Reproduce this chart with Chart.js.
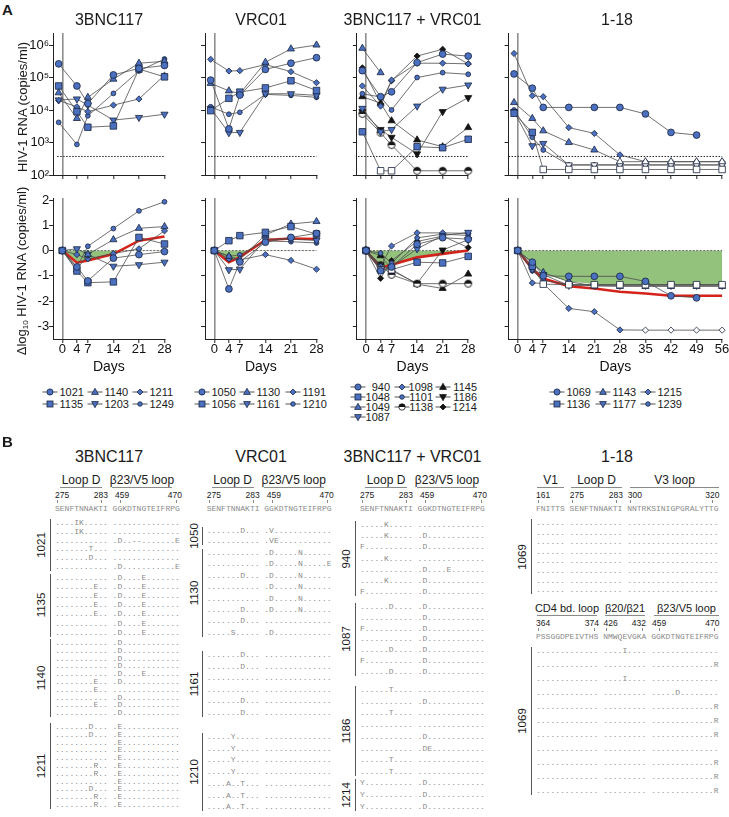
<!DOCTYPE html>
<html>
<head>
<meta charset="utf-8">
<script src="https://cdn.jsdelivr.net/npm/chart.js@4.4.1/dist/chart.umd.min.js"></script>
<style>
  body { margin:0; width:729px; height:817px; background:#fff; position:relative; overflow:hidden;
         font-family:"Liberation Sans", Arial, sans-serif; color:#1a1a1a; }
  canvas { position:absolute; }
  .t { position:absolute; white-space:nowrap; line-height:1; }
  .seq { position:absolute; white-space:pre; font-family:"Liberation Mono", "DejaVu Sans Mono", monospace;
         font-size:8px; line-height:8px; color:#8a8a8a; }
  .bar { position:absolute; height:1.6px; background:#8a8a8a; }
  .vl { position:absolute; width:1.2px; background:#555; }
  .tk { position:absolute; width:0.8px; height:3px; background:#888; }
  svg { position:absolute; overflow:visible; }
</style>
</head>
<body>
<script>
// ================= Panel A data (log10 copies/ml) =================
// baseline sample is drawn one day before the first infusion
const daysPre = [-1, 4, 7, 14, 21, 28];
const daysPost = [0, 4, 7, 14, 21, 28];
const daysPre118 = [-1, 4, 7, 14, 21, 28, 35, 42, 49, 56];
const daysPost118 = [0, 4, 7, 14, 21, 28, 35, 42, 49, 56];
const dayTicks = [0, 4, 7, 14, 21, 28];
const dayTicks118 = [0, 4, 7, 14, 21, 28, 35, 42, 49, 56];
const rnaTicks = [2, 3, 4, 5, 6];
const rnaTickLabels = ['10²', '10³', '10⁴', '10⁵', '10⁶'];
const deltaTicks = [-3, -2, -1, 0, 1, 2];
const deltaTickLabels = ['-3', '-2', '-1', '0', '1', '2'];
const detectionLimit = 2.57;
const panelTitles = ['3BNC117', 'VRC01', '3BNC117 + VRC01', '1-18'];

// 3BNC117
const ids3BNC = ['1021', '1135', '1140', '1203', '1211', '1249'];
const rna3BNC = [
  [5.42, 4.74, 4.20, 5.08, 5.28, 5.37],
  [4.74, 3.95, 3.47, 3.51, 5.26, 5.02],
  [4.53, 3.74, 4.39, 4.95, 5.44, 5.50],
  [4.31, 4.34, 4.15, 3.69, 3.77, 3.87],
  [4.29, 4.10, 3.95, 4.15, 4.34, 5.07],
  [3.62, 2.94, 3.82, 4.51, 5.20, 5.57]
];
const delta3BNC = [
  [0, -0.65, -1.20, -0.30, -0.16, -0.04],
  [0, -0.81, -1.27, -1.24, 0.52, 0.26],
  [0, -0.75, -0.15, 0.43, 0.88, 0.95],
  [0, 0.07, -0.15, -0.62, -0.56, -0.46],
  [0, -0.16, -0.33, -0.12, 0.07, 0.78],
  [0, -0.65, 0.17, 0.87, 1.57, 1.93]
];
const mean3BNC = [0, -0.48, -0.39, -0.14, 0.39, 0.56];

// VRC01
const idsVRC = ['1050', '1056', '1130', '1161', '1191', '1210'];
const rnaVRC = [
  [4.92, 3.42, 4.46, 5.25, 5.44, 5.61],
  [3.98, 4.36, 4.55, 4.68, 4.90, 4.60],
  [4.82, 4.59, 4.50, 5.47, 5.88, 6.00],
  [4.05, 3.30, 3.31, 4.50, 4.50, 4.45],
  [5.56, 5.20, 5.21, 5.40, 5.18, 4.84],
  [4.10, 3.87, 3.93, 4.48, 4.45, 4.39]
];
const deltaVRC = [
  [0, -1.52, -0.45, 0.33, 0.52, 0.68],
  [0, 0.39, 0.59, 0.72, 0.95, 0.65],
  [0, -0.23, -0.35, 0.62, 1.05, 1.15],
  [0, -0.76, -0.74, 0.45, 0.45, 0.40],
  [0, -0.33, -0.37, -0.16, -0.39, -0.74],
  [0, -0.23, -0.17, 0.38, 0.35, 0.30]
];
const meanVRC = [0, -0.46, -0.26, 0.42, 0.48, 0.46];

// 3BNC117 + VRC01
const idsCombo = ['940', '1048', '1049', '1087', '1098', '1101', '1138', '1145', '1186', '1214'];
const rnaCombo = [
  [5.21, 4.41, 4.56, 5.46, 5.72, 5.66],
  [3.33, 2.13, 2.13, 2.87, 2.84, 3.10],
  [5.90, 5.15, null, null, null, null],
  [4.05, 3.33, 3.40, 4.12, 4.64, 4.77],
  [4.74, 4.12, 4.92, 5.44, 5.44, 5.42],
  [4.50, 4.40, 4.00, 5.00, 5.15, 5.10],
  [3.88, 3.30, 2.92, 2.13, 2.13, 2.13],
  [4.41, 4.21, 3.67, 3.08, 2.87, 3.46],
  [3.95, 3.40, 3.16, 2.65, 3.95, 4.38],
  [5.30, 4.20, 4.90, 5.66, 5.87, 5.42]
];
const deltaCombo = [
  [0, -0.80, -0.65, 0.25, 0.51, 0.45],
  [0, -0.76, -0.76, -0.46, -0.49, -0.23],
  [0, -0.75, null, null, null, null],
  [0, -0.72, -0.65, 0.07, 0.59, 0.72],
  [0, -0.62, 0.18, 0.70, 0.70, 0.68],
  [0, -0.10, -0.50, 0.50, 0.65, 0.60],
  [0, -0.58, -0.96, -1.31, -1.31, -1.31],
  [0, -0.20, -0.74, -1.33, -1.50, -0.93],
  [0, -0.55, -0.79, -1.30, 0.02, 0.43],
  [0, -1.10, -0.40, 0.36, 0.57, 0.12]
];
const meanCombo = [0, -0.68, -0.56, -0.27, -0.13, 0.0];
const belowCombo = [[], [1, 2], [], [], [], [], [], [], [], []];

// 1-18
const ids118 = ['1069', '1136', '1143', '1177', '1215', '1239'];
const rna118 = [
  [5.11, 4.67, 4.08, 4.08, 4.08, 4.08, 3.88, 3.31, 3.23, null],
  [3.90, 3.31, 2.17, 2.17, 2.17, 2.17, 2.17, 2.17, 2.17, 2.17],
  [4.23, 3.74, 3.36, 3.00, 2.77, 2.41, 2.41, 2.41, 2.41, 2.41],
  [3.95, 2.90, 2.97, 2.31, 2.31, 2.31, 2.31, 2.31, 2.31, 2.31],
  [5.74, 4.44, 4.41, 3.46, 3.28, 2.62, 2.41, 2.41, 2.41, 2.41],
  [4.00, 3.16, 2.77, 2.31, 2.31, 2.31, 2.31, 2.31, 2.31, 2.31]
];
const delta118 = [
  [0, -0.46, -1.00, -1.02, -1.02, -1.02, -1.22, -1.79, -1.87, null],
  [0, -0.62, -1.33, -1.35, -1.35, -1.35, -1.35, -1.35, -1.35, -1.35],
  [0, -0.50, -0.87, -1.23, -1.40, -1.42, -1.42, -1.42, -1.42, -1.42],
  [0, -0.75, -0.95, -1.38, -1.38, -1.38, -1.38, -1.38, -1.38, -1.38],
  [0, -1.28, -1.30, -2.29, -2.42, -3.14, -3.15, -3.15, -3.15, -3.15],
  [0, -0.80, -1.18, -1.35, -1.35, -1.35, -1.35, -1.35, -1.35, -1.35]
];
const mean118 = [0, -0.72, -1.11, -1.41, -1.50, -1.63, -1.70, -1.79, -1.79, -1.79];
const shade118 = [0, -0.48, -0.92, -1.22, -1.32, -1.35, -1.35, -1.35, -1.35, -1.35];
const below118 = [[], [2, 3, 4, 5, 6, 7, 8, 9], [5, 6, 7, 8, 9], [3, 4, 5, 6, 7, 8, 9], [6, 7, 8, 9], [3, 4, 5, 6, 7, 8, 9]];

// ================= Panel B data (env sequences) =================
const envRef = 'SENFTNNAKTI GGKDTNGTEIFRPG';
const envRegions = ['Loop D', 'β23/V5 loop'];
const envPositions = ['275', '283', '459', '470'];
const seq1021 = [
  '....IK..... ..............', '....IK..... ..............', '........... .D..--.......E',
  '.......T... ..............', '.......D... ..............', '........... .D...........E'];
const seq1135 = [
  '........... .D....E.......', '........E.. .D....E.......', '........E.. .D....E.......',
  '........E.. .D....E.......', '........E.. .D....E.......', '........... .D....E.......',
  '........... .D....E.......'];
const seq1140 = [
  '........... .D............', '........... .D............', '........... .D............',
  '........... .D............', '........... .D....E.......', '........E.. .D............',
  '........E.. ..............', '........... .D............', '........E.. .D............',
  '........... .D............'];
const seq1211 = [
  '.......D... .E............', '.......D... .E............', '........... .E............',
  '........... .E............', '........... .E............', '........R.. .E............',
  '........R.. .E............', '........... .E............', '.......D... .E............',
  '........R.. .E............', '........R.. .E............'];
const seq1050 = ['.......D... .V............', '........... .VE...........'];
const seq1130 = [
  '........... .D.....N......', '........... .D.....N.....E', '.......D... .D.....N......',
  '........... .D.....N......', '........... .D.....N......', '.......D... .D.....N......',
  '.......D... ..............', '.....S..... .D............'];
const seq1161 = [
  '.......D... ..............', '.......D... ..............', '........... ..............',
  '........... ..............', '.......D... ..............', '.......D... ..............'];
const seq1210 = [
  '.....Y..... ..............', '.....Y..... ..............', '.....Y..... ..............',
  '.....Y..... ..............', '....A..T... ..............', '....A..T... ..............',
  '....A..T... ..............'];
const seq940 = [
  '.....K..... ..............', '.....K..... .D............', 'F.......... .D............',
  '.....K..... ..............', '........... .D....E.......', '.....K..... .D............',
  'F.......... .D............'];
const seq1087 = [
  '......D.... .D............', '........... .D............', 'F.......... .D............',
  '........... .D............', '......D.... .D............', 'F.......... .D............',
  '......D.... .D............'];
const seq1186 = [
  '......T.... ..............', '........... .D............', '......T.... ..............',
  '........... ..............', '........... .D............', '........... .DE...........',
  '......T.... ..............', '......T.... ..............'];
const seq1214 = ['Y.......... .D............', 'Y.......... .D............', 'Y.......... .D............'];
const v3Ref = 'FNITTS SENFTNNAKTI NNTRKSINIGPGRALYTTG';
const v3Regions = ['V1', 'Loop D', 'V3 loop'];
const v3Positions = ['161', '275', '283', '300', '320'];
const seq1069v3 = Array(8).fill('...... ........... ...................');
const cd4Ref = 'PSSGGDPEIVTHS NMWQEVGKA GGKDTNGTEIFRPG';
const cd4Regions = ['CD4 bd. loop', 'β20/β21', 'β23/V5 loop'];
const cd4Positions = ['364', '374', '426', '432', '459', '470'];
const seq1069cd4 = [
  '............. ....I.... ..............', '............. ......... .............R',
  '............. ....I.... ..............', '............. ......... .....D........',
  '............. ......... .............R', '............. ......... .............R',
  '............. ......... .............R', '............. ......... ..............',
  '............. ......... .............R', '............. ......... .............R',
  '............. ......... .............R'];

// ================= styles =================
const BLUE = '#4a70bf', EDGE = '#18233f', BLACK = '#141414', GREEN = '#93c27d', RED = '#d3231b';
const FONT = '"Liberation Sans", Arial, sans-serif';
const shapesStd = ['circle', 'square', 'up', 'down', 'diamond', 'dot'];
const shapesCombo = ['circle', 'square', 'up', 'down', 'diamond', 'dot', 'half', 'upK', 'downK', 'diamondK'];

function halfMarker() {
  const c = document.createElement('canvas');
  c.width = 10; c.height = 10;
  const g = c.getContext('2d');
  g.beginPath(); g.arc(5, 5, 3.5, 0, 2 * Math.PI); g.fillStyle = '#fff'; g.fill();
  g.beginPath(); g.arc(5, 5, 3.5, Math.PI, 2 * Math.PI); g.closePath(); g.fillStyle = BLACK; g.fill();
  g.beginPath(); g.arc(5, 5, 3.5, 0, 2 * Math.PI); g.lineWidth = 0.9; g.strokeStyle = BLACK; g.stroke();
  return c;
}
const HALF = halfMarker();

function markerStyle(name) {
  const dark = name.endsWith('K');
  const base = dark ? name.slice(0, -1) : name;
  const m = {
    circle: { pointStyle: 'circle', radius: 3.4, rot: 0 },
    dot: { pointStyle: 'circle', radius: 2.4, rot: 0 },
    square: { pointStyle: 'rect', radius: 4.6, rot: 0 },
    up: { pointStyle: 'triangle', radius: 4.1, rot: 0 },
    down: { pointStyle: 'triangle', radius: 4.1, rot: 180 },
    diamond: { pointStyle: 'rectRot', radius: 3.1, rot: 0 },
    half: { pointStyle: HALF, radius: 4, rot: 0 }
  }[base];
  return Object.assign({ fill: dark ? BLACK : BLUE, edge: dark ? BLACK : EDGE }, m);
}

// ================= helpers =================
function addText(html, x, y, size, opt) {
  opt = opt || {};
  const d = document.createElement('div');
  d.className = 't';
  d.innerHTML = html;
  d.style.fontSize = size + 'px';
  if (opt.bold) d.style.fontWeight = 'bold';
  if (opt.color) d.style.color = opt.color;
  const ax = opt.align === 'left' ? '0' : (opt.align === 'right' ? '-100%' : '-50%');
  d.style.left = x + 'px';
  d.style.top = y + 'px';
  d.style.transform = 'translate(' + ax + ',-50%)' + (opt.rot ? ' rotate(' + opt.rot + 'deg)' : '');
  document.body.appendChild(d);
  return d;
}
function addDiv(cls, x, y, w, h) {
  const d = document.createElement('div');
  d.className = cls;
  d.style.left = x + 'px'; d.style.top = y + 'px';
  if (w != null) d.style.width = w + 'px';
  if (h != null) d.style.height = h + 'px';
  document.body.appendChild(d);
  return d;
}
function addSeq(str, x, y) {
  const d = addDiv('seq', x, y - 4);
  d.textContent = str;
}

// ================= panel A charts =================
const PX_DAY = 3.65;
const topRow = { top: 23, chartTop: 33, chartBottom: 175, bottom: 185, yMin: 2, yMax: 6.37, yTicks: rnaTicks };
const botRow = { top: 188, chartTop: 198, chartBottom: 339, bottom: 376, yMin: -3.5, yMax: 2.08, yTicks: deltaTicks };

function seriesSets(xs, rows, shapes, below) {
  return rows.map((vals, k) => {
    const st = markerStyle(shapes[k]);
    const open = below ? below[k] : [];
    return {
      data: xs.map((x, i) => ({ x: x, y: vals[i] })),
      borderColor: '#4d4d4d', borderWidth: 0.8,
      pointStyle: st.pointStyle, pointRadius: st.radius, pointRotation: st.rot,
      pointBackgroundColor: vals.map((v, i) => open.includes(i) ? '#fff' : st.fill),
      pointBorderColor: st.edge, pointBorderWidth: 0.8,
      fill: false, tension: 0, clip: false, order: 1, spanGaps: false
    };
  });
}

function panelChart(row, o, datasets, yLabels, showX) {
  const chartLeft = o.day0 - 2.5 * PX_DAY;
  const chartRight = o.day0 + o.xMax * PX_DAY;
  const canvasLeft = Math.floor(chartLeft - o.yAxisW);
  const canvasRight = Math.ceil(chartRight + 12);
  const w = canvasRight - canvasLeft, h = row.bottom - row.top;
  const cv = document.createElement('canvas');
  cv.width = w; cv.height = h;
  cv.style.left = canvasLeft + 'px'; cv.style.top = row.top + 'px';
  cv.style.width = w + 'px'; cv.style.height = h + 'px';
  document.body.appendChild(cv);
  new Chart(cv, {
    type: 'line',
    data: { datasets: datasets },
    options: {
      responsive: false, animation: false, events: [],
      layout: { padding: { left: 0, top: row.chartTop - row.top, right: canvasRight - chartRight, bottom: 0 } },
      plugins: { legend: { display: false }, tooltip: { enabled: false }, filler: { drawTime: 'beforeDatasetsDraw' } },
      scales: {
        x: {
          type: 'linear', min: -2.5, max: o.xMax,
          afterBuildTicks: ax => { ax.ticks = o.xTicks.map(v => ({ value: v })); },
          afterFit: ax => { ax.height = row.bottom - row.chartBottom; },
          grid: {
            drawOnChartArea: true,
            color: c => (c.tick && c.tick.value === 0) ? '#8e8e8e' : 'rgba(0,0,0,0)',
            lineWidth: 1.6, tickLength: 4, tickColor: '#222', tickWidth: 1
          },
          border: { display: true, color: '#222', width: 1 },
          ticks: {
            autoSkip: false, maxRotation: 0, padding: -1, color: '#111',
            font: { family: FONT, size: 13 },
            callback: v => showX ? String(v) : ''
          },
          title: { display: showX, text: 'Days', color: '#111', font: { family: FONT, size: 14 }, padding: { top: 0, bottom: 0.6 } }
        },
        y: {
          type: 'linear', min: row.yMin, max: row.yMax,
          afterBuildTicks: ax => { ax.ticks = row.yTicks.map(v => ({ value: v })); },
          afterFit: ax => { ax.width = chartLeft - canvasLeft; },
          grid: { drawOnChartArea: false, tickLength: 4, tickColor: '#222', tickWidth: 1 },
          border: { display: true, color: '#222', width: 1 },
          ticks: {
            padding: 0, color: '#111', font: { family: FONT, size: 13 },
            callback: (v, i) => yLabels ? yLabels[i] : ''
          }
        }
      }
    }
  });
}

const panels = [
  { day0: 62.3, yAxisW: 53.2, xMax: 28, xTicks: dayTicks, pre: daysPre, post: daysPost,
    rna: rna3BNC, delta: delta3BNC, mean: mean3BNC, shapes: shapesStd, below: null, lodStart: -1.4 },
  { day0: 214.3, yAxisW: 8, xMax: 28, xTicks: dayTicks, pre: daysPre, post: daysPost,
    rna: rnaVRC, delta: deltaVRC, mean: meanVRC, shapes: shapesStd, below: null, lodStart: -1.7 },
  { day0: 366, yAxisW: 8, xMax: 28, xTicks: dayTicks, pre: daysPre, post: daysPost,
    rna: rnaCombo, delta: deltaCombo, mean: meanCombo, shapes: shapesCombo, below: belowCombo, lodStart: -2.2 },
  { day0: 517.7, yAxisW: 8, xMax: 56, xTicks: dayTicks118, pre: daysPre118, post: daysPost118,
    rna: rna118, delta: delta118, mean: mean118, shade: shade118, shapes: shapesStd, below: below118, lodStart: -2.5 }
];

panels.forEach((p, c) => {
  // top row: RNA
  const topSets = seriesSets(p.pre, p.rna, p.shapes, p.below);
  topSets.push({
    data: [{ x: p.lodStart, y: detectionLimit }, { x: p.xMax, y: detectionLimit }],
    borderColor: '#222', borderWidth: 1, borderDash: [1.5, 1.5], pointRadius: 0, fill: false, order: 3, clip: false
  });
  panelChart(topRow, p, topSets, c === 0 ? rnaTickLabels : null, false);

  // bottom row: change from baseline
  const botSets = seriesSets(p.post, p.delta, p.shapes, p.below);
  botSets.push({
    data: p.post.map((x, i) => ({ x: x, y: p.mean[i] })),
    borderColor: RED, borderWidth: 2.6, pointRadius: 0, tension: 0, clip: false, order: 2,
    fill: p.shade ? false : { target: { value: 0 }, above: 'rgba(0,0,0,0)', below: GREEN }
  });
  botSets.push({
    data: [{ x: 0, y: 0 }, { x: p.xMax, y: 0 }],
    borderColor: '#444', borderWidth: 0.8, borderDash: [2, 1.5], pointRadius: 0, fill: false, order: 3, clip: false
  });
  if (p.shade) {
    botSets.push({
      data: p.post.map((x, i) => ({ x: x, y: p.shade[i] })),
      borderWidth: 0, borderColor: 'rgba(0,0,0,0)', pointRadius: 0, tension: 0, order: 4,
      fill: { target: { value: 0 }, above: 'rgba(0,0,0,0)', below: GREEN }
    });
  }
  panelChart(botRow, p, botSets, c === 0 ? deltaTickLabels : null, true);
});

// ================= panel A text =================
const titleX = [109, 261, 412.5, 617];
addText('A', 2, 9, 15, { bold: true, align: 'left' });
panelTitles.forEach((t, i) => addText(t, titleX[i], 20, 16));
addText('HIV-1 RNA (copies/ml)', 22, 107, 13, { rot: -90 });
addText('Δlog<sub style="font-size:8px;vertical-align:-2px">10</sub> HIV-1 RNA (copies/ml)', 22, 271, 13, { rot: -90 });

// legends
const svgNS = 'http://www.w3.org/2000/svg';
function legendIcon(shape, mx, my) {
  const s = document.createElementNS(svgNS, 'svg');
  s.setAttribute('width', 18); s.setAttribute('height', 10);
  s.style.left = (mx - 9) + 'px'; s.style.top = (my - 5) + 'px';
  const dark = shape.endsWith('K');
  const base = dark ? shape.slice(0, -1) : shape;
  const fill = dark ? BLACK : BLUE, edge = dark ? BLACK : EDGE;
  let inner = '<line x1="1.5" y1="5" x2="16.5" y2="5" stroke="#555" stroke-width="1"/>';
  const sa = ' fill="' + fill + '" stroke="' + edge + '" stroke-width="0.8"';
  if (base === 'circle') inner += '<circle cx="9" cy="5" r="3.1"' + sa + '/>';
  if (base === 'dot') inner += '<circle cx="9" cy="5" r="2.3"' + sa + '/>';
  if (base === 'square') inner += '<rect x="6" y="2" width="6" height="6"' + sa + '/>';
  if (base === 'up') inner += '<polygon points="9,1.3 12.4,7.4 5.6,7.4"' + sa + '/>';
  if (base === 'down') inner += '<polygon points="9,8.7 12.4,2.6 5.6,2.6"' + sa + '/>';
  if (base === 'diamond') inner += '<polygon points="9,2 12,5 9,8 6,5"' + sa + '/>';
  if (base === 'half') inner += '<circle cx="9" cy="5" r="3.2" fill="#fff" stroke="' + BLACK + '" stroke-width="0.8"/>' +
    '<path d="M5.8,5 A3.2,3.2 0 0 1 12.2,5 Z" fill="' + BLACK + '"/>';
  s.innerHTML = inner;
  document.body.appendChild(s);
}
// cols: which legend entries go in each column, top to bottom
function legendGrid(ids, shapes, colX, rowY, cols, textRight) {
  cols.forEach((members, col) => {
    members.forEach((k, row) => {
      const mx = colX[col], my = rowY[row];
      legendIcon(shapes[k], mx, my);
      if (textRight) addText(ids[k], textRight[col], my, 11, { align: 'right' });
      else addText(ids[k], mx + 9.5, my, 11, { align: 'left' });
    });
  });
}
const cols3x2 = [[0, 1], [2, 3], [4, 5]];
legendGrid(ids3BNC, shapesStd, [50, 95, 140], [392, 403.5], cols3x2);
legendGrid(idsVRC, shapesStd, [202, 247, 293], [392, 403.5], cols3x2);
legendGrid(idsCombo, shapesCombo, [358, 402, 443], [387, 397, 407, 417], [[0, 1, 2, 3], [4, 5, 6], [7, 8, 9]], [390, 433, 477]);
legendGrid(ids118, shapesStd, [557, 603, 648], [392, 403.5], cols3x2);

// ================= panel B =================
addText('B', 2, 441, 15, { bold: true, align: 'left' });
panelTitles.forEach((t, i) => addText(t, titleX[i], 457, 16));

function header(x0, y0, ref, names, bars, nums, numPos, ticks, labelSize) {
  names.forEach((n, i) => {
    addText(n, x0 + (bars[i][0] + bars[i][1]) / 2, y0, labelSize || 12);
    addDiv('bar', x0 + bars[i][0], y0 + 6.5, bars[i][1] - bars[i][0]);
  });
  nums.forEach((n, i) => addText(n, x0 + numPos[i][0], y0 + 15, 8.5, { align: numPos[i][1] }));
  ticks.forEach(t => addDiv('tk', x0 + t, y0 + 20));
  addSeq(ref, x0, y0 + 29);
}
function group(x0, lineX, labelX, y, sp, id, rows) {
  rows.forEach((r, i) => addSeq(r, x0, y + i * sp));
  const yEnd = y + (rows.length - 1) * sp;
  addDiv('vl', lineX, y - 4, null, yEnd - y + 8);
  addText(id, labelX, (y + yEnd) / 2, 11.5, { rot: -90 });
}

const envBars = [[5, 47], [57, 117]];
const envNumPos = [[0, 'left'], [53, 'right'], [60, 'left'], [127, 'right']];
const envTicks = [2.4, 45.9, 65, 120.7];
[55, 206.7, 360].forEach(x0 => header(x0, 480, envRef, envRegions, envBars, envPositions, envNumPos, envTicks));

group(55, 50, 42, 523, 8.8, '1021', seq1021);
group(55, 50, 42, 578, 9.1, '1135', seq1135);
group(55, 50, 42, 643, 7.8, '1140', seq1140);
group(55, 50, 42, 727, 7.8, '1211', seq1211);

group(206.7, 201.5, 194.5, 531, 9.5, '1050', seq1050);
group(206.7, 201.5, 194.5, 553, 11.4, '1130', seq1130);
group(206.7, 201.5, 194.5, 655, 11.6, '1161', seq1161);
group(206.7, 201.5, 194.5, 737, 11.7, '1210', seq1210);

group(360, 355, 347, 525, 11.2, '940', seq940);
group(360, 355, 347, 607, 10.8, '1087', seq1087);
group(360, 355, 347, 690, 11.7, '1186', seq1186);
group(360, 355, 347, 783, 12, '1214', seq1214);

header(536, 480, v3Ref, v3Regions, [[1, 28], [35, 86], [94, 183]], v3Positions,
  [[0, 'left'], [33.8, 'left'], [87, 'right'], [91.8, 'left'], [183.5, 'right']], [2.4, 36.2, 79.7, 94.2, 176.3]);
group(536, 531, 523, 523, 9.6, '1069', seq1069v3);
header(536, 608, cd4Ref, cd4Regions, [[1, 61], [69, 109], [118, 183]], cd4Positions,
  [[0, 'left'], [63, 'right'], [67.6, 'left'], [110, 'right'], [116, 'left'], [183.5, 'right']], [2.4, 58, 70, 106, 123, 178], 11);
group(536, 531, 523, 651, 14, '1069', seq1069cd4);
</script>
</body>
</html>
